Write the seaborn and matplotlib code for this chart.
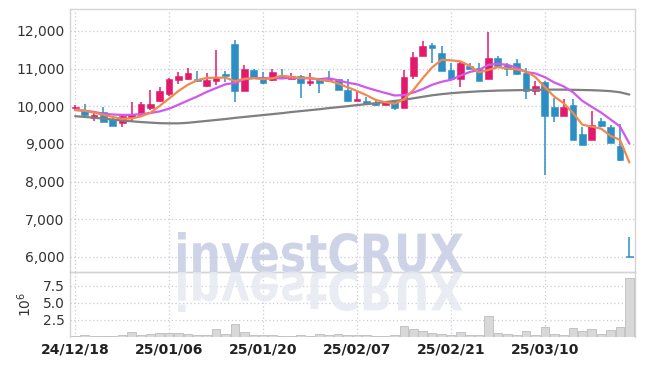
import numpy as np
import pandas as pd
import matplotlib
matplotlib.use('Agg')
import matplotlib.pyplot as plt
import seaborn as sns
from matplotlib.textpath import TextPath
from matplotlib.font_manager import FontProperties
from matplotlib.patches import PathPatch
from matplotlib.transforms import Affine2D
from matplotlib.ticker import FuncFormatter

# Datos (precios diarios, volumen en millones)
fechas = ['24/12/18', '24/12/19', '24/12/20', '24/12/23', '24/12/24', '24/12/26', '24/12/27', '24/12/30',
          '25/01/02', '25/01/03', '25/01/06', '25/01/07', '25/01/08', '25/01/09', '25/01/10', '25/01/13',
          '25/01/14', '25/01/15', '25/01/16', '25/01/17', '25/01/20', '25/01/21', '25/01/22', '25/01/23',
          '25/01/24', '25/01/31', '25/02/03', '25/02/04', '25/02/05', '25/02/06', '25/02/07', '25/02/10',
          '25/02/11', '25/02/12', '25/02/13', '25/02/14', '25/02/17', '25/02/18', '25/02/19', '25/02/20',
          '25/02/21', '25/02/24', '25/02/25', '25/02/26', '25/02/27', '25/02/28', '25/03/04', '25/03/05',
          '25/03/06', '25/03/07', '25/03/10', '25/03/11', '25/03/12', '25/03/13', '25/03/14', '25/03/17',
          '25/03/18', '25/03/19', '25/03/20', '25/03/21']

apertura = [9950, 9890, 9690, 9850, 9670, 9560, 9715, 9760, 9940, 10140,
            10320, 10690, 10720, 10720, 10540, 10675, 10860, 11650, 10410, 10960,
            10770, 10690, 10790, 10720, 10810, 10620, 10710, 10710, 10710, 10425,
            10140, 10130, 10090, 10025, 10115, 9940, 10800, 11340, 11620, 11410,
            10960, 10710, 11070, 11020, 10735, 11270, 11090, 11135, 10885, 10410,
            10650, 9980, 9745, 10025, 9255, 9115, 9610, 9450, 8945, 6000]
cierre = [9990, 9760, 9760, 9590, 9480, 9735, 9805, 10050, 10050, 10400,
          10720, 10800, 10880, 10660, 10690, 10755, 10810, 10410, 10975, 10780,
          10620, 10905, 10765, 10810, 10620, 10675, 10620, 10660, 10425, 10140,
          10185, 10060, 10025, 10115, 9940, 10770, 11295, 11595, 11550, 10940,
          10710, 11160, 11000, 10675, 11270, 11075, 11000, 10850, 10410, 10530,
          9745, 9745, 9980, 9095, 8980, 9495, 9470, 9025, 8565, 5990]
maximo = [10020, 10050, 9820, 9970, 9720, 9790, 10100, 10100, 10425, 10500,
          10740, 10910, 11020, 10930, 10870, 11500, 10930, 11755, 11100, 10975,
          10910, 10975, 10980, 10890, 10830, 10885, 10740, 10930, 10730, 10735,
          10365, 10250, 10160, 10130, 10130, 10950, 11450, 11720, 11665, 11610,
          11150, 11170, 11160, 11160, 11960, 11340, 11160, 11250, 11005, 10675,
          10660, 10230, 10200, 10180, 9450, 9875, 9700, 9495, 9520, 6520]
minimo = [9890, 9740, 9610, 9570, 9470, 9440, 9585, 9750, 9890, 10120,
          10270, 10600, 10700, 10630, 10510, 10560, 10650, 10115, 10410, 10760,
          10600, 10660, 10760, 10720, 10230, 10540, 10355, 10650, 10420, 10115,
          10140, 10040, 10000, 10025, 9890, 9940, 10735, 11340, 11135, 10940,
          10700, 10515, 10990, 10670, 10720, 11050, 10805, 10830, 10180, 10290,
          8165, 9585, 9745, 9095, 8960, 9100, 9460, 9020, 8550, 5990]
volumen = [0.2, 0.3, 0.15, 0.15, 0.15, 0.3, 0.74, 0.3, 0.5, 0.64,
           0.64, 0.64, 0.5, 0.3, 0.3, 1.18, 0.5, 1.9, 0.74, 0.3,
           0.3, 0.3, 0.15, 0.15, 0.3, 0.15, 0.45, 0.25, 0.4, 0.3,
           0.25, 0.25, 0.15, 0.15, 0.25, 1.6, 1.23, 0.93, 0.6, 0.5,
           0.3, 0.74, 0.3, 0.25, 3.1, 0.64, 0.45, 0.25, 0.9, 0.35,
           1.47, 0.5, 0.25, 1.3, 0.83, 1.23, 0.5, 1.03, 1.5, 8.6]

ma5 = [9900, 9880, 9830, 9770, 9716, 9665, 9674, 9732, 9824, 10008,
       10205, 10404, 10570, 10692, 10750, 10757, 10759, 10665, 10728, 10746,
       10719, 10738, 10809, 10776, 10744, 10755, 10698, 10677, 10600, 10504,
       10406, 10294, 10167, 10105, 10065, 10182, 10429, 10743, 11030, 11230,
       11218, 11191, 11072, 10897, 10963, 11036, 11004, 10974, 10921, 10773,
       10507, 10256, 10082, 9819, 9509, 9459, 9404, 9213, 9107, 8509]
ma10 = [9900, 9880, 9850, 9800, 9780, 9770, 9770, 9790, 9820, 9862,
        9935, 10039, 10151, 10258, 10379, 10481, 10582, 10618, 10710, 10748,
        10738, 10749, 10737, 10752, 10745, 10737, 10718, 10743, 10688, 10624,
        10581, 10496, 10422, 10353, 10285, 10294, 10362, 10455, 10568, 10648,
        10700, 10810, 10908, 10964, 11097, 11127, 11098, 11023, 10909, 10868,
        10772, 10630, 10528, 10370, 10141, 9983, 9830, 9648, 9463, 9009]
ma60 = [9735, 9715, 9695, 9670, 9645, 9620, 9600, 9580, 9565, 9550,
        9545, 9545, 9560, 9585, 9610, 9635, 9660, 9690, 9715, 9740,
        9765, 9790, 9815, 9845, 9870, 9895, 9920, 9950, 9975, 10000,
        10030, 10055, 10080, 10110, 10140, 10170, 10210, 10250, 10290, 10320,
        10345, 10365, 10380, 10395, 10405, 10415, 10420, 10425, 10430, 10435,
        10440, 10440, 10440, 10435, 10430, 10425, 10415, 10400, 10370, 10310]

df = pd.DataFrame({'fecha': fechas, 'open': apertura, 'close': cierre, 'high': maximo,
                   'low': minimo, 'vol': volumen, 'ma5': ma5, 'ma10': ma10, 'ma60': ma60})
df['idx'] = np.arange(len(df))

sns.set_style('white')
plt.rcParams['font.family'] = ['Liberation Sans Narrow', 'DejaVu Sans']

ROJO = '#e3196b'
AZUL = '#2b8fc6'
GRID = '#c9cbdc'
BORDE = '#d4d4d4'

fig = plt.figure(figsize=(6.45, 3.66), dpi=100)
fig.patch.set_facecolor('white')
ax_p = fig.add_axes([70 / 645, 1 - 272 / 366, 565 / 645, 263 / 366])
ax_v = fig.add_axes([70 / 645, 1 - 337 / 366, 565 / 645, 65 / 366], sharex=ax_p)
for ax in (ax_p, ax_v):
    ax.set_facecolor('none')
    for s in ax.spines.values():
        s.set_color(BORDE)
        s.set_linewidth(1)

# Velas
sube = df['close'] >= df['open']
colores = np.where(sube, ROJO, AZUL)
ax_p.vlines(df['idx'], df['low'], df['high'], colors=colores, linewidth=1.1, zorder=3)
cuerpo = (df['close'] - df['open']).abs().clip(lower=25)
base = df[['open', 'close']].min(axis=1)
ax_p.bar(df['idx'], cuerpo, bottom=base, width=0.72, color=colores,
         edgecolor=colores, linewidth=0.4, zorder=4)

# Medias moviles
sns.lineplot(data=df, x='idx', y='ma60', ax=ax_p, color='#7f7f7f', linewidth=1.6, zorder=5)
sns.lineplot(data=df, x='idx', y='ma10', ax=ax_p, color='#d157ee', linewidth=1.6, zorder=6)
sns.lineplot(data=df, x='idx', y='ma5', ax=ax_p, color='#f08a4c', linewidth=1.6, zorder=7)

ax_p.set_ylim(5600, 12580)
ax_p.set_yticks(np.arange(6000, 12001, 1000))
ax_p.yaxis.set_major_formatter(FuncFormatter(lambda v, p: f'{int(v):,}'))
ax_p.set_xlim(-0.55, 59.6)
ax_p.set_xlabel('')
ax_p.set_ylabel('')
ax_p.grid(True, linestyle=(0, (1, 2)), color=GRID, linewidth=0.9)
ax_p.tick_params(axis='y', length=0, labelsize=10, labelcolor='#333333', pad=4)
ax_p.tick_params(axis='x', length=0, labelbottom=False)

# Volumen
sns.barplot(data=df, x='idx', y='vol', native_scale=True, ax=ax_v, color='#d8d8d8',
            edgecolor='#bdbdbd', linewidth=0.6, width=0.92, errorbar=None, zorder=3)
ax_v.set_ylim(0, 9.5)
ax_v.set_yticks([2.5, 5.0, 7.5])
ax_v.set_yticklabels(['2.5', '5.0', '7.5'])
ax_v.set_ylabel(r'$10^6$', fontsize=10, color='#333333', labelpad=6)
ax_v.set_xlabel('')
ax_v.grid(True, linestyle=(0, (1, 2)), color=GRID, linewidth=0.9)
ax_v.tick_params(axis='y', length=0, labelsize=10, labelcolor='#333333', pad=4)
ticks = df['idx'][::10]
ax_v.set_xticks(ticks)
ax_v.set_xticklabels(df['fecha'][::10], fontweight='bold', fontsize=10, color='#222222')
ax_v.tick_params(axis='x', length=0, pad=4)
ax_v.set_xlim(-0.55, 59.6)
ax_v.spines['bottom'].set_visible(False)

# Marca de agua con reflejo
fp = FontProperties(family='DejaVu Sans', weight='bold')
tp = TextPath((0, 0), 'investCRUX', size=100, prop=fp)
bb = tp.get_extents()
x0, x1 = 178 / 645, 463 / 645
y_base, y_top = 1 - 272 / 366, 1 - 232 / 366
sx = (x1 - x0) / bb.width
sy = (y_top - y_base) / bb.y1
tr = Affine2D().translate(-bb.x0, 0).scale(sx, sy).translate(x0, y_base)
tr_ref = Affine2D().translate(-bb.x0, 0).scale(sx, -sy).translate(x0, y_base)
fig.add_artist(PathPatch(tr.transform_path(tp), transform=fig.transFigure,
                         facecolor='#c6cce3', edgecolor='none', alpha=0.85, zorder=0.5))
fig.add_artist(PathPatch(tr_ref.transform_path(tp), transform=fig.transFigure,
                         facecolor='#e6e9f2', edgecolor='none', alpha=0.85, zorder=0.5))

plt.savefig('out.png', dpi=100)
plt.close()
